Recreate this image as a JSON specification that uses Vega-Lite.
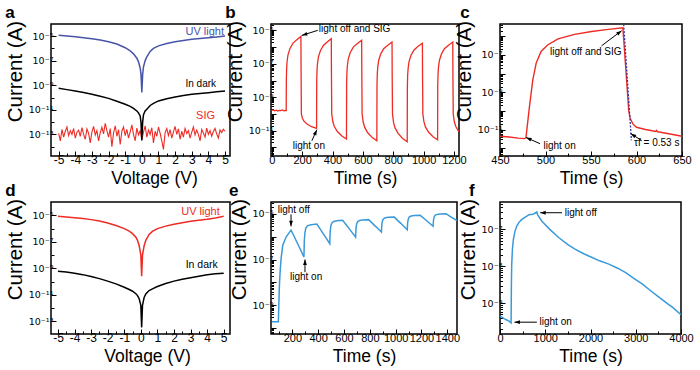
{
"$schema":"https://vega.github.io/schema/vega-lite/v6.json",
"background":"white",
"padding":{"left":4,"top":3,"right":0,"bottom":0},
"config":{
 "font":"Liberation Sans",
 "view":{"stroke":"#000000","strokeWidth":1.5},
 "axis":{"grid":false,"domain":false,"tickColor":"#000000","tickWidth":1,"labelColor":"#000000","titleColor":"#000000","labelFont":"Liberation Sans","titleFont":"Liberation Sans","titleFontWeight":"normal","labelOverlap":false,"labelFlush":false,"tickCount":500},
 "axisX":{"labelFontSize":11,"titleFontSize":17.5,"labelPadding":3,"titlePadding":2},
 "axisY":{"labelFontSize":9.5,"labelFont":"DejaVu Sans","titleFontSize":20.5,"labelPadding":3,"titlePadding":3,"titleY":47},
 "title":{"anchor":"start","frame":"bounds","fontSize":17,"fontWeight":"bold","offset":-2,"baseline":"alphabetic","font":"Liberation Sans","color":"#000000"},
 "text":{"font":"Liberation Sans","fontSize":10}
},
"datasets":{
 "aUV":[{"x":-5,"y":1.15e-5},{"x":-4.5,"y":1.0e-5},{"x":-4,"y":8.71e-6},{"x":-3.5,"y":7.41e-6},{"x":-3,"y":6.03e-6},{"x":-2.5,"y":4.68e-6},{"x":-2,"y":3.47e-6},{"x":-1.5,"y":2.24e-6},{"x":-1,"y":1.12e-6},{"x":-0.7,"y":6.31e-7},{"x":-0.5,"y":3.55e-7},{"x":-0.3,"y":1.58e-7},{"x":-0.2,"y":7.94e-8},{"x":-0.1,"y":2.51e-8},{"x":-0.05,"y":7.94e-9},{"x":0,"y":2.51e-10},{"x":0.05,"y":7.94e-9},{"x":0.1,"y":3.16e-8},{"x":0.2,"y":1e-7},{"x":0.3,"y":2e-7},{"x":0.5,"y":5.62e-7},{"x":0.7,"y":1e-6},{"x":1,"y":1.58e-6},{"x":1.5,"y":2.51e-6},{"x":2,"y":3.47e-6},{"x":2.5,"y":4.37e-6},{"x":3,"y":5.37e-6},{"x":3.5,"y":6.31e-6},{"x":4,"y":7.24e-6},{"x":4.5,"y":8.51e-6},{"x":5,"y":1e-5}],
 "aDark":[{"x":-5,"y":5.62e-10},{"x":-4.5,"y":4.37e-10},{"x":-4,"y":3.39e-10},{"x":-3.5,"y":2.51e-10},{"x":-3,"y":1.82e-10},{"x":-2.5,"y":1.26e-10},{"x":-2,"y":8.51e-11},{"x":-1.5,"y":5.01e-11},{"x":-1,"y":2.82e-11},{"x":-0.7,"y":1.91e-11},{"x":-0.5,"y":1.32e-11},{"x":-0.3,"y":7.94e-12},{"x":-0.2,"y":5.62e-12},{"x":-0.1,"y":3.16e-12},{"x":-0.05,"y":1e-12},{"x":0,"y":3.16e-14},{"x":0.05,"y":1e-12},{"x":0.1,"y":3.98e-12},{"x":0.2,"y":7.94e-12},{"x":0.3,"y":1.12e-11},{"x":0.5,"y":2.24e-11},{"x":0.7,"y":3.31e-11},{"x":1,"y":5.25e-11},{"x":1.5,"y":7.94e-11},{"x":2,"y":1.1e-10},{"x":2.5,"y":1.45e-10},{"x":3,"y":1.82e-10},{"x":3.5,"y":2.14e-10},{"x":4,"y":2.45e-10},{"x":4.5,"y":2.88e-10},{"x":5,"y":3.39e-10}],
 "aSIG":[{"x":-5.0,"y":1.2e-13},{"x":-4.9,"y":3e-14},{"x":-4.8,"y":2.5e-13},{"x":-4.7,"y":6e-14},{"x":-4.6,"y":1.8e-13},{"x":-4.5,"y":4e-13},{"x":-4.4,"y":8e-14},{"x":-4.3,"y":2e-13},{"x":-4.2,"y":1e-13},{"x":-4.1,"y":3e-13},{"x":-4.0,"y":5e-14},{"x":-3.9,"y":1.5e-13},{"x":-3.8,"y":2.2e-13},{"x":-3.7,"y":7e-14},{"x":-3.6,"y":3.5e-13},{"x":-3.5,"y":1e-13},{"x":-3.4,"y":4e-14},{"x":-3.3,"y":2.8e-13},{"x":-3.2,"y":1.2e-13},{"x":-3.1,"y":2e-14},{"x":-3.0,"y":1.6e-13},{"x":-2.9,"y":4.5e-13},{"x":-2.8,"y":9e-14},{"x":-2.7,"y":2e-13},{"x":-2.6,"y":3e-14},{"x":-2.5,"y":1.4e-13},{"x":-2.4,"y":3.8e-13},{"x":-2.3,"y":1.1e-13},{"x":-2.2,"y":8e-13},{"x":-2.1,"y":2e-13},{"x":-2.0,"y":6e-14},{"x":-1.9,"y":3e-13},{"x":-1.8,"y":1e-14},{"x":-1.7,"y":1.3e-13},{"x":-1.6,"y":5e-13},{"x":-1.5,"y":7e-14},{"x":-1.4,"y":2.4e-13},{"x":-1.3,"y":1.5e-14},{"x":-1.2,"y":1.8e-13},{"x":-1.1,"y":4e-13},{"x":-1.0,"y":8e-14},{"x":-0.9,"y":2.6e-13},{"x":-0.8,"y":5e-14},{"x":-0.7,"y":1.6e-13},{"x":-0.6,"y":6e-13},{"x":-0.5,"y":1e-13},{"x":-0.4,"y":3e-14},{"x":-0.3,"y":3.2e-13},{"x":-0.2,"y":9e-14},{"x":-0.1,"y":2e-13},{"x":0.0,"y":4e-14},{"x":0.1,"y":1.5e-13},{"x":0.2,"y":5e-13},{"x":0.3,"y":6e-14},{"x":0.4,"y":2.2e-13},{"x":0.5,"y":1e-13},{"x":0.6,"y":3.5e-13},{"x":0.7,"y":2e-14},{"x":0.8,"y":1.8e-13},{"x":0.9,"y":7e-14},{"x":1.0,"y":4e-13},{"x":1.1,"y":1.2e-13},{"x":1.2,"y":3e-14},{"x":1.3,"y":6e-15},{"x":1.4,"y":1.4e-13},{"x":1.5,"y":3e-13},{"x":1.6,"y":8e-14},{"x":1.7,"y":2.4e-13},{"x":1.8,"y":5e-14},{"x":1.9,"y":1.6e-13},{"x":2.0,"y":4.5e-13},{"x":2.1,"y":1e-13},{"x":2.2,"y":2.8e-13},{"x":2.3,"y":4e-14},{"x":2.4,"y":1.8e-13},{"x":2.5,"y":6e-14},{"x":2.6,"y":3e-13},{"x":2.7,"y":1.2e-13},{"x":2.8,"y":2e-13},{"x":2.9,"y":5e-14},{"x":3.0,"y":1.5e-13},{"x":3.1,"y":4e-13},{"x":3.2,"y":9e-14},{"x":3.3,"y":2.2e-13},{"x":3.4,"y":1e-13},{"x":3.5,"y":3e-14},{"x":3.6,"y":2.5e-13},{"x":3.7,"y":1.3e-13},{"x":3.8,"y":6e-14},{"x":3.9,"y":3.2e-13},{"x":4.0,"y":1e-13},{"x":4.1,"y":2e-13},{"x":4.2,"y":7e-14},{"x":4.3,"y":1.7e-13},{"x":4.4,"y":3e-13},{"x":4.5,"y":1.1e-13},{"x":4.6,"y":5e-14},{"x":4.7,"y":2.3e-13},{"x":4.8,"y":1.4e-13},{"x":4.9,"y":2.6e-13},{"x":5.0,"y":1.8e-13}],
 "dUV":[{"x":-5,"y":8.32e-6},{"x":-4.5,"y":7.41e-6},{"x":-4,"y":6.61e-6},{"x":-3.5,"y":5.62e-6},{"x":-3,"y":4.68e-6},{"x":-2.5,"y":3.63e-6},{"x":-2,"y":2.63e-6},{"x":-1.5,"y":1.7e-6},{"x":-1,"y":9.77e-7},{"x":-0.7,"y":6.31e-7},{"x":-0.5,"y":4.07e-7},{"x":-0.3,"y":2.24e-7},{"x":-0.2,"y":1.29e-7},{"x":-0.1,"y":5.01e-8},{"x":0,"y":1e-8},{"x":0.05,"y":2.51e-10},{"x":0.1,"y":1e-8},{"x":0.2,"y":5.01e-8},{"x":0.3,"y":1.29e-7},{"x":0.5,"y":3.55e-7},{"x":0.7,"y":6.03e-7},{"x":1,"y":9.77e-7},{"x":1.5,"y":1.51e-6},{"x":2,"y":2.09e-6},{"x":2.5,"y":2.75e-6},{"x":3,"y":3.55e-6},{"x":3.5,"y":4.27e-6},{"x":4,"y":5.01e-6},{"x":4.5,"y":6.31e-6},{"x":5,"y":8.32e-6}],
 "dDark":[{"x":-5,"y":6.03e-10},{"x":-4.5,"y":5.13e-10},{"x":-4,"y":4.27e-10},{"x":-3.5,"y":3.31e-10},{"x":-3,"y":2.4e-10},{"x":-2.5,"y":1.66e-10},{"x":-2,"y":1.07e-10},{"x":-1.5,"y":6.61e-11},{"x":-1,"y":3.72e-11},{"x":-0.7,"y":2.51e-11},{"x":-0.5,"y":1.86e-11},{"x":-0.3,"y":1.2e-11},{"x":-0.2,"y":8.71e-12},{"x":-0.1,"y":5.01e-12},{"x":0,"y":1.58e-12},{"x":0.05,"y":3.47e-14},{"x":0.1,"y":1.58e-12},{"x":0.2,"y":6.31e-12},{"x":0.3,"y":1.17e-11},{"x":0.5,"y":2.09e-11},{"x":0.7,"y":2.82e-11},{"x":1,"y":4.17e-11},{"x":1.5,"y":7.08e-11},{"x":2,"y":1.07e-10},{"x":2.5,"y":1.48e-10},{"x":3,"y":1.91e-10},{"x":3.5,"y":2.51e-10},{"x":4,"y":3.24e-10},{"x":4.5,"y":3.8e-10},{"x":5,"y":4.27e-10}],
 "b":[{"x":0,"y":1.62e-10},{"x":10,"y":1.74e-10},{"x":20,"y":1.55e-10},{"x":30,"y":1.7e-10},{"x":40,"y":1.51e-10},{"x":50,"y":1.66e-10},{"x":60,"y":1.58e-10},{"x":70,"y":1.74e-10},{"x":80,"y":1.55e-10},{"x":90,"y":1.62e-10},{"x":95,"y":1.62e-10},{"x":96,"y":1.1e-8},{"x":98,"y":5.5e-8},{"x":101,"y":1.38e-7},{"x":107,"y":3.47e-7},{"x":120,"y":8.32e-7},{"x":140,"y":1.74e-6},{"x":165,"y":2.75e-6},{"x":192,"y":4.37e-6},{"x":193,"y":4.37e-8},{"x":195,"y":1e-10},{"x":202,"y":5.5e-11},{"x":212,"y":3.72e-11},{"x":232,"y":2.51e-11},{"x":262,"y":1.74e-11},{"x":295,"y":1.38e-11},{"x":296,"y":7.94e-9},{"x":298,"y":3.98e-8},{"x":301,"y":1e-7},{"x":307,"y":2.51e-7},{"x":320,"y":6.03e-7},{"x":340,"y":1.26e-6},{"x":365,"y":2e-6},{"x":392,"y":3.16e-6},{"x":393,"y":3.16e-8},{"x":395,"y":1e-10},{"x":402,"y":3.55e-11},{"x":412,"y":1.78e-11},{"x":432,"y":8.91e-12},{"x":462,"y":4.79e-12},{"x":492,"y":3.16e-12},{"x":493,"y":6.31e-9},{"x":495,"y":3.16e-8},{"x":498,"y":7.94e-8},{"x":504,"y":2e-7},{"x":517,"y":4.79e-7},{"x":537,"y":1e-6},{"x":562,"y":1.58e-6},{"x":592,"y":2.51e-6},{"x":593,"y":2.51e-8},{"x":595,"y":1e-10},{"x":602,"y":3.31e-11},{"x":612,"y":1.58e-11},{"x":632,"y":7.59e-12},{"x":662,"y":3.89e-12},{"x":692,"y":2.51e-12},{"x":693,"y":5.01e-9},{"x":695,"y":2.51e-8},{"x":698,"y":6.31e-8},{"x":704,"y":1.58e-7},{"x":717,"y":3.8e-7},{"x":737,"y":7.94e-7},{"x":762,"y":1.26e-6},{"x":792,"y":2e-6},{"x":793,"y":2e-8},{"x":795,"y":1e-10},{"x":802,"y":3.16e-11},{"x":812,"y":1.48e-11},{"x":832,"y":6.92e-12},{"x":862,"y":3.47e-12},{"x":892,"y":2.19e-12},{"x":893,"y":4.27e-9},{"x":895,"y":2.14e-8},{"x":898,"y":5.37e-8},{"x":904,"y":1.35e-7},{"x":917,"y":3.24e-7},{"x":937,"y":6.76e-7},{"x":962,"y":1.07e-6},{"x":992,"y":1.7e-6},{"x":993,"y":1.7e-8},{"x":995,"y":1e-10},{"x":1002,"y":3.47e-11},{"x":1012,"y":1.7e-11},{"x":1032,"y":8.32e-12},{"x":1062,"y":4.37e-12},{"x":1092,"y":2.88e-12},{"x":1093,"y":5.01e-9},{"x":1095,"y":2.51e-8},{"x":1098,"y":6.31e-8},{"x":1104,"y":1.58e-7},{"x":1117,"y":3.8e-7},{"x":1137,"y":7.94e-7},{"x":1162,"y":1.26e-6},{"x":1192,"y":2e-6},{"x":1193,"y":2e-8},{"x":1195,"y":1e-10},{"x":1202,"y":3.55e-11},{"x":1212,"y":1.78e-11},{"x":1232,"y":8.91e-12}],
 "c":[{"x":450,"y":4.37e-12},{"x":460,"y":3.98e-12},{"x":470,"y":3.47e-12},{"x":477,"y":3.24e-12},{"x":478.5,"y":3.55e-12},{"x":482.4,"y":1.74e-10},{"x":486,"y":4.47e-9},{"x":489.8,"y":3.72e-8},{"x":495.3,"y":1.58e-7},{"x":502.7,"y":3.55e-7},{"x":513.8,"y":7.24e-7},{"x":532,"y":1.26e-6},{"x":550.6,"y":1.82e-6},{"x":569,"y":2.34e-6},{"x":585,"y":2.88e-6},{"x":586,"y":6.31e-7},{"x":591.5,"y":1e-10},{"x":593,"y":3.98e-11},{"x":596,"y":2e-11},{"x":600,"y":1.32e-11},{"x":610,"y":1e-11},{"x":621,"y":7.94e-12},{"x":622,"y":8.91e-12},{"x":623,"y":7.59e-12},{"x":625,"y":7.41e-12},{"x":640,"y":5.37e-12},{"x":650,"y":4.37e-12}],
 "cFit":[{"x":585.9,"y":4.47e-6},{"x":594.4,"y":2.63e-12}],
 "e":[{"x":40,"y":1.91e-10},{"x":92,"y":1.91e-10},{"x":96,"y":1.26e-9},{"x":100,"y":7.41e-9},{"x":106,"y":3.16e-8},{"x":113,"y":1.1e-7},{"x":126,"y":4.17e-7},{"x":152,"y":9.55e-7},{"x":190,"y":1.91e-6},{"x":210,"y":1.15e-6},{"x":230,"y":6.61e-7},{"x":250,"y":3.89e-7},{"x":270,"y":2.24e-7},{"x":290,"y":1.29e-7},{"x":293,"y":6.76e-7},{"x":298,"y":1.55e-6},{"x":305,"y":2.4e-6},{"x":320,"y":3.02e-6},{"x":345,"y":3.31e-6},{"x":390,"y":3.55e-6},{"x":415,"y":2.19e-6},{"x":440,"y":1.32e-6},{"x":465,"y":8.13e-7},{"x":490,"y":4.9e-7},{"x":493,"y":1.58e-6},{"x":498,"y":2.85e-6},{"x":505,"y":3.89e-6},{"x":520,"y":4.57e-6},{"x":545,"y":4.9e-6},{"x":590,"y":5.13e-6},{"x":615,"y":3.39e-6},{"x":640,"y":2.24e-6},{"x":665,"y":1.45e-6},{"x":690,"y":9.55e-7},{"x":693,"y":2.29e-6},{"x":698,"y":3.55e-6},{"x":705,"y":4.47e-6},{"x":720,"y":5.01e-6},{"x":745,"y":5.25e-6},{"x":790,"y":5.5e-6},{"x":815,"y":4.07e-6},{"x":840,"y":2.95e-6},{"x":865,"y":2.19e-6},{"x":890,"y":1.58e-6},{"x":893,"y":3.35e-6},{"x":898,"y":4.9e-6},{"x":905,"y":5.89e-6},{"x":920,"y":6.61e-6},{"x":945,"y":6.92e-6},{"x":990,"y":7.08e-6},{"x":1015,"y":5.13e-6},{"x":1040,"y":3.8e-6},{"x":1065,"y":2.75e-6},{"x":1090,"y":2e-6},{"x":1093,"y":4.12e-6},{"x":1098,"y":5.89e-6},{"x":1105,"y":7.08e-6},{"x":1120,"y":7.94e-6},{"x":1145,"y":8.32e-6},{"x":1190,"y":8.51e-6},{"x":1215,"y":6.46e-6},{"x":1240,"y":4.9e-6},{"x":1265,"y":3.72e-6},{"x":1290,"y":2.82e-6},{"x":1293,"y":5.31e-6},{"x":1298,"y":7.24e-6},{"x":1305,"y":8.51e-6},{"x":1320,"y":9.33e-6},{"x":1345,"y":9.77e-6},{"x":1390,"y":1e-5},{"x":1415,"y":8.13e-6},{"x":1440,"y":6.61e-6},{"x":1475,"y":5.01e-6}],
 "f":[{"x":0,"y":4.47e-10},{"x":50,"y":4.17e-10},{"x":100,"y":3.8e-10},{"x":150,"y":3.55e-10},{"x":200,"y":3.31e-10},{"x":245,"y":2.95e-10},{"x":252,"y":3.16e-9},{"x":259,"y":1.15e-8},{"x":275,"y":2.95e-8},{"x":296,"y":5.37e-8},{"x":330,"y":8.71e-8},{"x":370,"y":1.23e-7},{"x":420,"y":1.55e-7},{"x":481,"y":1.86e-7},{"x":593,"y":2.29e-7},{"x":650,"y":2.51e-7},{"x":704,"y":2.51e-7},{"x":760,"y":2.69e-7},{"x":815,"y":2.95e-7},{"x":830,"y":2.51e-7},{"x":926,"y":1.66e-7},{"x":1100,"y":1e-7},{"x":1296,"y":6.03e-8},{"x":1500,"y":3.89e-8},{"x":1667,"y":2.88e-8},{"x":1850,"y":2.19e-8},{"x":2037,"y":1.74e-8},{"x":2200,"y":1.41e-8},{"x":2407,"y":1.15e-8},{"x":2600,"y":8.91e-9},{"x":2778,"y":6.76e-9},{"x":2950,"y":4.79e-9},{"x":3148,"y":3.31e-9},{"x":3330,"y":2.19e-9},{"x":3519,"y":1.45e-9},{"x":3700,"y":9.77e-10},{"x":3815,"y":7.76e-10},{"x":4000,"y":4.9e-10}],
 "notes":[{"id":"aUV","x":4.94,"y":2.09e-5,"label":"UV light"},{"id":"aDark","x":4.46,"y":1.2e-9,"label":"In dark"},{"id":"aSIG","x":4.4,"y":2.95e-12,"label":"SIG"},{"id":"dUV","x":4.76,"y":1.7e-5,"label":"UV light"},{"id":"dDark","x":4.64,"y":1.82e-9,"label":"In dark"},{"id":"b","x":310,"y":1.15e-5,"label":"light off and SIG"},{"id":"b","x":138,"y":1.29e-12,"label":"light on"},{"id":"c","x":505,"y":1.51e-7,"label":"light off and SIG"},{"id":"c","x":497.8,"y":1.38e-12,"label":"light on"},{"id":"c","x":597.3,"y":1.9e-12,"label":"τf = 0.53 s"},{"id":"e","x":87,"y":1.48e-5,"label":"light off"},{"id":"e","x":182,"y":1.74e-8,"label":"light on"},{"id":"f","x":1430,"y":2.82e-7,"label":"light off"},{"id":"f","x":874,"y":3.09e-10,"label":"light on"}],
 "arrows":[{"panel":"b","id":"b1","x":303,"y":1e-5,"x2":198,"y2":5.01e-6},{"panel":"b","id":"b2","x":264,"y":2.51e-12,"x2":297,"y2":1.15e-11},{"panel":"c","id":"c1","x":561.6,"y":3.09e-7,"x2":583.7,"y2":2e-6},{"panel":"c","id":"c2","x":494,"y":1.74e-12,"x2":478.7,"y2":3.72e-12},{"panel":"c","id":"c3","x":605.8,"y":2.57e-12,"x2":593.6,"y2":6.03e-12},{"panel":"e","id":"e1","x":190,"y":9.33e-6,"x2":190,"y2":2.82e-6},{"panel":"e","id":"e2","x":298,"y":2.82e-8,"x2":298,"y2":1e-7},{"panel":"f","id":"f1","x":1370,"y":2.82e-7,"x2":889,"y2":2.82e-7},{"panel":"f","id":"f2","x":815,"y":3.09e-10,"x2":319,"y2":3.09e-10}]
},
"bounds":"flush",
"columns":3,
"spacing":{"row":46,"column":41},
"concat":[
 {"width":179,"height":132,"title":"a",
  "layer":[
   {"data":{"name":"aSIG"},"mark":{"type":"line","color":"#ee2b24","strokeWidth":1.1,"clip":true},
    "encoding":{
     "x":{"field":"x","type":"quantitative","title":"Voltage (V)","scale":{"domain":[-5.46,5.3],"nice":false,"zero":false},
      "axis":{"labelOverlap":false,"tickCount":500,"titleX":103,"values":[-5,-4.5,-4,-3.5,-3,-2.5,-2,-1.5,-1,-0.5,0,0.5,1,1.5,2,2.5,3,3.5,4,4.5,5],"labelExpr":"datum.value % 1 == 0 ? '' + datum.value : ''","labelFontSize":12,"tickSize":{"condition":{"test":"datum.value % 1 == 0","value":-5},"value":-3}}},
     "y":{"field":"y","type":"quantitative","title":"Current (A)","scale":{"type":"log","domain":[1.74e-15,9.55e-5],"nice":false},
      "axis":{"labelOverlap":false,"tickCount":500,"values":[1e-14,1e-13,1e-12,1e-11,1e-10,1e-9,1e-8,1e-7,1e-6,1e-5],"labelExpr":"abs(log(datum.value)/LN10 - round(log(datum.value)/LN10)) > 0.01 || round(log(datum.value)/LN10) % 2 == 0 ? '' : '10⁻' + (round(log(datum.value)/LN10) <= -10 ? '¹' : '') + substring('⁰¹²³⁴⁵⁶⁷⁸⁹', abs(round(log(datum.value)/LN10)) % 10, abs(round(log(datum.value)/LN10)) % 10 + 1)","tickSize":{"condition":{"test":"round(log(datum.value)/LN10) % 2 != 0","value":-5},"value":-3}}}}},
   {"data":{"name":"aDark"},"mark":{"type":"line","color":"#000000","strokeWidth":1.5,"clip":true},
    "encoding":{"x":{"field":"x","type":"quantitative","title":"Voltage (V)","scale":{"domain":[-5.46,5.3],"nice":false,"zero":false}},"y":{"field":"y","type":"quantitative","title":"Current (A)","scale":{"type":"log","domain":[1.74e-15,9.55e-5],"nice":false}}}},
   {"data":{"name":"aUV"},"mark":{"type":"line","color":"#4754a8","strokeWidth":1.5,"clip":true},
    "encoding":{"x":{"field":"x","type":"quantitative","title":"Voltage (V)","scale":{"domain":[-5.46,5.3],"nice":false,"zero":false}},"y":{"field":"y","type":"quantitative","title":"Current (A)","scale":{"type":"log","domain":[1.74e-15,9.55e-5],"nice":false}}}},
   {"data":{"name":"notes"},"transform":[{"filter":"datum.id == 'aUV'"}],"mark":{"type":"text","align":"right","baseline":"middle","fontSize":11,"color":"#4754a8"},
    "encoding":{"x":{"field":"x","type":"quantitative","title":"Voltage (V)","scale":{"domain":[-5.46,5.3],"nice":false,"zero":false}},"y":{"field":"y","type":"quantitative","title":"Current (A)","scale":{"type":"log","domain":[1.74e-15,9.55e-5],"nice":false}},"text":{"field":"label"}}},
   {"data":{"name":"notes"},"transform":[{"filter":"datum.id == 'aDark'"}],"mark":{"type":"text","align":"right","baseline":"middle","fontSize":10,"color":"#000000"},
    "encoding":{"x":{"field":"x","type":"quantitative","title":"Voltage (V)","scale":{"domain":[-5.46,5.3],"nice":false,"zero":false}},"y":{"field":"y","type":"quantitative","title":"Current (A)","scale":{"type":"log","domain":[1.74e-15,9.55e-5],"nice":false}},"text":{"field":"label"}}},
   {"data":{"name":"notes"},"transform":[{"filter":"datum.id == 'aSIG'"}],"mark":{"type":"text","align":"right","baseline":"middle","fontSize":11,"color":"#ee2b24"},
    "encoding":{"x":{"field":"x","type":"quantitative","title":"Voltage (V)","scale":{"domain":[-5.46,5.3],"nice":false,"zero":false}},"y":{"field":"y","type":"quantitative","title":"Current (A)","scale":{"type":"log","domain":[1.74e-15,9.55e-5],"nice":false}},"text":{"field":"label"}}}
  ]},
 {"width":188,"height":132,"title":"b",
  "layer":[
   {"data":{"name":"b"},"mark":{"type":"line","color":"#ee2b24","strokeWidth":1.3,"clip":true},
    "encoding":{
     "x":{"field":"x","type":"quantitative","title":"Time (s)","scale":{"domain":[-5,1233],"nice":false,"zero":false},
      "axis":{"labelOverlap":false,"tickCount":500,"values":[0,100,200,300,400,500,600,700,800,900,1000,1100,1200],"labelExpr":"datum.value % 200 == 0 ? '' + datum.value : ''","tickSize":{"condition":{"test":"datum.value % 200 == 0","value":-5},"value":-3}}},
     "y":{"field":"y","type":"quantitative","title":"Current (A)","scale":{"type":"log","domain":[3.09e-13,2.4e-5],"nice":false},
      "axis":{"labelOverlap":false,"tickCount":500,"values":[4e-13,5e-13,6e-13,7e-13,8e-13,9e-13,1e-12,2e-12,3e-12,4e-12,5e-12,6e-12,7e-12,8e-12,9e-12,1e-11,2e-11,3e-11,4e-11,5e-11,6e-11,7e-11,8e-11,9e-11,1e-10,2e-10,3e-10,4e-10,5e-10,6e-10,7e-10,8e-10,9e-10,1e-9,2e-9,3e-9,4e-9,5e-9,6e-9,7e-9,8e-9,9e-9,1e-8,2e-8,3e-8,4e-8,5e-8,6e-8,7e-8,8e-8,9e-8,1e-7,2e-7,3e-7,4e-7,5e-7,6e-7,7e-7,8e-7,9e-7,1e-6,2e-6,3e-6,4e-6,5e-6,6e-6,7e-6,8e-6,9e-6,1e-5,2e-5],"labelExpr":"abs(log(datum.value)/LN10 - round(log(datum.value)/LN10)) > 0.01 || round(log(datum.value)/LN10) % 2 == 0 ? '' : '10⁻' + (round(log(datum.value)/LN10) <= -10 ? '¹' : '') + substring('⁰¹²³⁴⁵⁶⁷⁸⁹', abs(round(log(datum.value)/LN10)) % 10, abs(round(log(datum.value)/LN10)) % 10 + 1)","tickSize":{"condition":{"test":"abs(log(datum.value)/LN10 - round(log(datum.value)/LN10)) < 0.01","value":-5},"value":-2.5}}}}},
   {"data":{"name":"notes"},"transform":[{"filter":"datum.id == 'b'"}],"mark":{"type":"text","align":"left","baseline":"middle","fontSize":10,"color":"#000000"},
    "encoding":{"x":{"field":"x","type":"quantitative","title":"Time (s)","scale":{"domain":[-5,1233],"nice":false,"zero":false}},"y":{"field":"y","type":"quantitative","title":"Current (A)","scale":{"type":"log","domain":[3.09e-13,2.4e-5],"nice":false}},"text":{"field":"label"}}},
   {"data":{"name":"arrows"},"transform":[{"filter":"datum.panel == 'b'"}],"mark":{"type":"rule","color":"#000000","strokeWidth":1},
    "encoding":{"x":{"field":"x","type":"quantitative","title":"Time (s)","scale":{"domain":[-5,1233],"nice":false,"zero":false}},"y":{"field":"y","type":"quantitative","title":"Current (A)","scale":{"type":"log","domain":[3.09e-13,2.4e-5],"nice":false}},"x2":{"field":"x2"},"y2":{"field":"y2"}}},
   {"data":{"name":"arrows"},"transform":[{"filter":"datum.id == 'b1'"}],"mark":{"type":"point","shape":"M0,0L0.7,2L-0.7,2Z","filled":true,"color":"#000000","opacity":1,"size":30,"angle":253},
    "encoding":{"x":{"field":"x2","type":"quantitative","title":"Time (s)","scale":{"domain":[-5,1233],"nice":false,"zero":false}},"y":{"field":"y2","type":"quantitative","title":"Current (A)","scale":{"type":"log","domain":[3.09e-13,2.4e-5],"nice":false}}}},
   {"data":{"name":"arrows"},"transform":[{"filter":"datum.id == 'b2'"}],"mark":{"type":"point","shape":"M0,0L0.7,2L-0.7,2Z","filled":true,"color":"#000000","opacity":1,"size":30,"angle":25},
    "encoding":{"x":{"field":"x2","type":"quantitative","title":"Time (s)","scale":{"domain":[-5,1233],"nice":false,"zero":false}},"y":{"field":"y2","type":"quantitative","title":"Current (A)","scale":{"type":"log","domain":[3.09e-13,2.4e-5],"nice":false}}}}
  ]},
 {"width":182,"height":132,"title":{"text":"c","dx":6},
  "layer":[
   {"data":{"name":"c"},"mark":{"type":"line","color":"#ee2b24","strokeWidth":1.4,"clip":true},
    "encoding":{
     "x":{"field":"x","type":"quantitative","title":"Time (s)","scale":{"domain":[450,650],"nice":false,"zero":false},
      "axis":{"labelOverlap":false,"tickCount":500,"values":[450,475,500,525,550,575,600,625,650],"labelExpr":"datum.value % 50 == 0 ? '' + datum.value : ''","tickSize":{"condition":{"test":"datum.value % 50 == 0","value":-5},"value":-3}}},
     "y":{"field":"y","type":"quantitative","title":"Current (A)","scale":{"type":"log","domain":[3.8e-13,4.57e-6],"nice":false},
      "axis":{"labelOverlap":false,"tickCount":500,"values":[4e-13,5e-13,6e-13,7e-13,8e-13,9e-13,1e-12,2e-12,3e-12,4e-12,5e-12,6e-12,7e-12,8e-12,9e-12,1e-11,2e-11,3e-11,4e-11,5e-11,6e-11,7e-11,8e-11,9e-11,1e-10,2e-10,3e-10,4e-10,5e-10,6e-10,7e-10,8e-10,9e-10,1e-9,2e-9,3e-9,4e-9,5e-9,6e-9,7e-9,8e-9,9e-9,1e-8,2e-8,3e-8,4e-8,5e-8,6e-8,7e-8,8e-8,9e-8,1e-7,2e-7,3e-7,4e-7,5e-7,6e-7,7e-7,8e-7,9e-7,1e-6,2e-6,3e-6,4e-6],"labelExpr":"abs(log(datum.value)/LN10 - round(log(datum.value)/LN10)) > 0.01 || round(log(datum.value)/LN10) % 2 == 0 ? '' : '10⁻' + (round(log(datum.value)/LN10) <= -10 ? '¹' : '') + substring('⁰¹²³⁴⁵⁶⁷⁸⁹', abs(round(log(datum.value)/LN10)) % 10, abs(round(log(datum.value)/LN10)) % 10 + 1)","tickSize":{"condition":{"test":"abs(log(datum.value)/LN10 - round(log(datum.value)/LN10)) < 0.01","value":-5},"value":-2.5}}}}},
   {"data":{"name":"cFit"},"mark":{"type":"line","color":"#3535a8","strokeWidth":1.3,"strokeDash":[2,1.5],"clip":true},
    "encoding":{"x":{"field":"x","type":"quantitative","title":"Time (s)","scale":{"domain":[450,650],"nice":false,"zero":false}},"y":{"field":"y","type":"quantitative","title":"Current (A)","scale":{"type":"log","domain":[3.8e-13,4.57e-6],"nice":false}}}},
   {"data":{"name":"notes"},"transform":[{"filter":"datum.id == 'c'"}],"mark":{"type":"text","align":"left","baseline":"middle","fontSize":10,"color":"#000000"},
    "encoding":{"x":{"field":"x","type":"quantitative","title":"Time (s)","scale":{"domain":[450,650],"nice":false,"zero":false}},"y":{"field":"y","type":"quantitative","title":"Current (A)","scale":{"type":"log","domain":[3.8e-13,4.57e-6],"nice":false}},"text":{"field":"label"}}},
   {"data":{"name":"arrows"},"transform":[{"filter":"datum.panel == 'c'"}],"mark":{"type":"rule","color":"#000000","strokeWidth":1},
    "encoding":{"x":{"field":"x","type":"quantitative","title":"Time (s)","scale":{"domain":[450,650],"nice":false,"zero":false}},"y":{"field":"y","type":"quantitative","title":"Current (A)","scale":{"type":"log","domain":[3.8e-13,4.57e-6],"nice":false}},"x2":{"field":"x2"},"y2":{"field":"y2"}}},
   {"data":{"name":"arrows"},"transform":[{"filter":"datum.id == 'c1'"}],"mark":{"type":"point","shape":"M0,0L0.7,2L-0.7,2Z","filled":true,"color":"#000000","opacity":1,"size":30,"angle":53},
    "encoding":{"x":{"field":"x2","type":"quantitative","title":"Time (s)","scale":{"domain":[450,650],"nice":false,"zero":false}},"y":{"field":"y2","type":"quantitative","title":"Current (A)","scale":{"type":"log","domain":[3.8e-13,4.57e-6],"nice":false}}}},
   {"data":{"name":"arrows"},"transform":[{"filter":"datum.id == 'c2'"}],"mark":{"type":"point","shape":"M0,0L0.7,2L-0.7,2Z","filled":true,"color":"#000000","opacity":1,"size":30,"angle":294},
    "encoding":{"x":{"field":"x2","type":"quantitative","title":"Time (s)","scale":{"domain":[450,650],"nice":false,"zero":false}},"y":{"field":"y2","type":"quantitative","title":"Current (A)","scale":{"type":"log","domain":[3.8e-13,4.57e-6],"nice":false}}}},
   {"data":{"name":"arrows"},"transform":[{"filter":"datum.id == 'c3'"}],"mark":{"type":"point","shape":"M0,0L0.7,2L-0.7,2Z","filled":true,"color":"#000000","opacity":1,"size":30,"angle":302},
    "encoding":{"x":{"field":"x2","type":"quantitative","title":"Time (s)","scale":{"domain":[450,650],"nice":false,"zero":false}},"y":{"field":"y2","type":"quantitative","title":"Current (A)","scale":{"type":"log","domain":[3.8e-13,4.57e-6],"nice":false}}}}
  ]},
 {"width":179,"height":132,"title":"d",
  "layer":[
   {"data":{"name":"dDark"},"mark":{"type":"line","color":"#000000","strokeWidth":1.5,"clip":true},
    "encoding":{
     "x":{"field":"x","type":"quantitative","title":"Voltage (V)","scale":{"domain":[-5.42,5.38],"nice":false,"zero":false},
      "axis":{"labelOverlap":false,"tickCount":500,"titleX":96,"values":[-5,-4.5,-4,-3.5,-3,-2.5,-2,-1.5,-1,-0.5,0,0.5,1,1.5,2,2.5,3,3.5,4,4.5,5],"labelExpr":"datum.value % 1 == 0 ? '' + datum.value : ''","labelFontSize":12,"tickSize":{"condition":{"test":"datum.value % 1 == 0","value":-5},"value":-3}}},
     "y":{"field":"y","type":"quantitative","title":"Current (A)","scale":{"type":"log","domain":[1.1e-14,1e-4],"nice":false},
      "axis":{"labelOverlap":false,"tickCount":500,"values":[1e-13,1e-12,1e-11,1e-10,1e-9,1e-8,1e-7,1e-6,1e-5],"labelExpr":"abs(log(datum.value)/LN10 - round(log(datum.value)/LN10)) > 0.01 || round(log(datum.value)/LN10) % 2 == 0 ? '' : '10⁻' + (round(log(datum.value)/LN10) <= -10 ? '¹' : '') + substring('⁰¹²³⁴⁵⁶⁷⁸⁹', abs(round(log(datum.value)/LN10)) % 10, abs(round(log(datum.value)/LN10)) % 10 + 1)","tickSize":{"condition":{"test":"round(log(datum.value)/LN10) % 2 != 0","value":-5},"value":-3}}}}},
   {"data":{"name":"dUV"},"mark":{"type":"line","color":"#ee2b24","strokeWidth":1.5,"clip":true},
    "encoding":{"x":{"field":"x","type":"quantitative","title":"Voltage (V)","scale":{"domain":[-5.42,5.38],"nice":false,"zero":false}},"y":{"field":"y","type":"quantitative","title":"Current (A)","scale":{"type":"log","domain":[1.1e-14,1e-4],"nice":false}}}},
   {"data":{"name":"notes"},"transform":[{"filter":"datum.id == 'dUV'"}],"mark":{"type":"text","align":"right","baseline":"middle","fontSize":11,"color":"#ee2b24"},
    "encoding":{"x":{"field":"x","type":"quantitative","title":"Voltage (V)","scale":{"domain":[-5.42,5.38],"nice":false,"zero":false}},"y":{"field":"y","type":"quantitative","title":"Current (A)","scale":{"type":"log","domain":[1.1e-14,1e-4],"nice":false}},"text":{"field":"label"}}},
   {"data":{"name":"notes"},"transform":[{"filter":"datum.id == 'dDark'"}],"mark":{"type":"text","align":"right","baseline":"middle","fontSize":10.5,"color":"#000000"},
    "encoding":{"x":{"field":"x","type":"quantitative","title":"Voltage (V)","scale":{"domain":[-5.42,5.38],"nice":false,"zero":false}},"y":{"field":"y","type":"quantitative","title":"Current (A)","scale":{"type":"log","domain":[1.1e-14,1e-4],"nice":false}},"text":{"field":"label"}}}
  ]},
 {"width":186,"height":132,"title":"e",
  "layer":[
   {"data":{"name":"e"},"mark":{"type":"line","color":"#3a9ad9","strokeWidth":1.5,"clip":true},
    "encoding":{
     "x":{"field":"x","type":"quantitative","title":"Time (s)","scale":{"domain":[35,1475],"nice":false,"zero":false},
      "axis":{"labelOverlap":false,"tickCount":500,"values":[100,200,300,400,500,600,700,800,900,1000,1100,1200,1300,1400],"labelExpr":"datum.value % 200 == 0 ? '' + datum.value : ''","tickSize":{"condition":{"test":"datum.value % 200 == 0","value":-5},"value":-3}}},
     "y":{"field":"y","type":"quantitative","title":"Current (A)","scale":{"type":"log","domain":[5.62e-11,3.24e-5],"nice":false},
      "axis":{"labelOverlap":false,"tickCount":500,"values":[6e-11,7e-11,8e-11,9e-11,1e-10,2e-10,3e-10,4e-10,5e-10,6e-10,7e-10,8e-10,9e-10,1e-9,2e-9,3e-9,4e-9,5e-9,6e-9,7e-9,8e-9,9e-9,1e-8,2e-8,3e-8,4e-8,5e-8,6e-8,7e-8,8e-8,9e-8,1e-7,2e-7,3e-7,4e-7,5e-7,6e-7,7e-7,8e-7,9e-7,1e-6,2e-6,3e-6,4e-6,5e-6,6e-6,7e-6,8e-6,9e-6,1e-5,2e-5,3e-5],"labelExpr":"abs(log(datum.value)/LN10 - round(log(datum.value)/LN10)) > 0.01 || round(log(datum.value)/LN10) % 2 == 0 ? '' : '10⁻' + (round(log(datum.value)/LN10) <= -10 ? '¹' : '') + substring('⁰¹²³⁴⁵⁶⁷⁸⁹', abs(round(log(datum.value)/LN10)) % 10, abs(round(log(datum.value)/LN10)) % 10 + 1)","tickSize":{"condition":{"test":"abs(log(datum.value)/LN10 - round(log(datum.value)/LN10)) < 0.01","value":-5},"value":-2.5}}}}},
   {"data":{"name":"notes"},"transform":[{"filter":"datum.id == 'e'"}],"mark":{"type":"text","align":"left","baseline":"middle","fontSize":10,"color":"#000000"},
    "encoding":{"x":{"field":"x","type":"quantitative","title":"Time (s)","scale":{"domain":[35,1475],"nice":false,"zero":false}},"y":{"field":"y","type":"quantitative","title":"Current (A)","scale":{"type":"log","domain":[5.62e-11,3.24e-5],"nice":false}},"text":{"field":"label"}}},
   {"data":{"name":"arrows"},"transform":[{"filter":"datum.panel == 'e'"}],"mark":{"type":"rule","color":"#000000","strokeWidth":1},
    "encoding":{"x":{"field":"x","type":"quantitative","title":"Time (s)","scale":{"domain":[35,1475],"nice":false,"zero":false}},"y":{"field":"y","type":"quantitative","title":"Current (A)","scale":{"type":"log","domain":[5.62e-11,3.24e-5],"nice":false}},"x2":{"field":"x2"},"y2":{"field":"y2"}}},
   {"data":{"name":"arrows"},"transform":[{"filter":"datum.id == 'e1'"}],"mark":{"type":"point","shape":"M0,0L0.7,2L-0.7,2Z","filled":true,"color":"#000000","opacity":1,"size":30,"angle":180},
    "encoding":{"x":{"field":"x2","type":"quantitative","title":"Time (s)","scale":{"domain":[35,1475],"nice":false,"zero":false}},"y":{"field":"y2","type":"quantitative","title":"Current (A)","scale":{"type":"log","domain":[5.62e-11,3.24e-5],"nice":false}}}},
   {"data":{"name":"arrows"},"transform":[{"filter":"datum.id == 'e2'"}],"mark":{"type":"point","shape":"M0,0L0.7,2L-0.7,2Z","filled":true,"color":"#000000","opacity":1,"size":30,"angle":0},
    "encoding":{"x":{"field":"x2","type":"quantitative","title":"Time (s)","scale":{"domain":[35,1475],"nice":false,"zero":false}},"y":{"field":"y2","type":"quantitative","title":"Current (A)","scale":{"type":"log","domain":[5.62e-11,3.24e-5],"nice":false}}}}
  ]},
 {"width":181,"height":132,"title":{"text":"f","dx":11},
  "layer":[
   {"data":{"name":"f"},"mark":{"type":"line","color":"#3a9ad9","strokeWidth":1.5,"clip":true},
    "encoding":{
     "x":{"field":"x","type":"quantitative","title":"Time (s)","scale":{"domain":[0,4000],"nice":false,"zero":false},
      "axis":{"labelOverlap":false,"tickCount":500,"values":[0,500,1000,1500,2000,2500,3000,3500,4000],"labelExpr":"datum.value % 1000 == 0 ? '' + datum.value : ''","tickSize":{"condition":{"test":"datum.value % 1000 == 0","value":-5},"value":-3}}},
     "y":{"field":"y","type":"quantitative","title":"Current (A)","scale":{"type":"log","domain":[1.48e-10,5.5e-7],"nice":false},
      "axis":{"labelOverlap":false,"tickCount":500,"values":[2e-10,3e-10,4e-10,5e-10,6e-10,7e-10,8e-10,9e-10,1e-9,2e-9,3e-9,4e-9,5e-9,6e-9,7e-9,8e-9,9e-9,1e-8,2e-8,3e-8,4e-8,5e-8,6e-8,7e-8,8e-8,9e-8,1e-7,2e-7,3e-7,4e-7,5e-7],"labelExpr":"abs(log(datum.value)/LN10 - round(log(datum.value)/LN10)) > 0.01 ? '' : '10⁻' + substring('⁰¹²³⁴⁵⁶⁷⁸⁹', abs(round(log(datum.value)/LN10)) % 10, abs(round(log(datum.value)/LN10)) % 10 + 1)","tickSize":{"condition":{"test":"abs(log(datum.value)/LN10 - round(log(datum.value)/LN10)) < 0.01","value":-5},"value":-2.5}}}}},
   {"data":{"name":"notes"},"transform":[{"filter":"datum.id == 'f'"}],"mark":{"type":"text","align":"left","baseline":"middle","fontSize":10,"color":"#000000"},
    "encoding":{"x":{"field":"x","type":"quantitative","title":"Time (s)","scale":{"domain":[0,4000],"nice":false,"zero":false}},"y":{"field":"y","type":"quantitative","title":"Current (A)","scale":{"type":"log","domain":[1.48e-10,5.5e-7],"nice":false}},"text":{"field":"label"}}},
   {"data":{"name":"arrows"},"transform":[{"filter":"datum.panel == 'f'"}],"mark":{"type":"rule","color":"#000000","strokeWidth":1},
    "encoding":{"x":{"field":"x","type":"quantitative","title":"Time (s)","scale":{"domain":[0,4000],"nice":false,"zero":false}},"y":{"field":"y","type":"quantitative","title":"Current (A)","scale":{"type":"log","domain":[1.48e-10,5.5e-7],"nice":false}},"x2":{"field":"x2"},"y2":{"field":"y2"}}},
   {"data":{"name":"arrows"},"transform":[{"filter":"datum.panel == 'f'"}],"mark":{"type":"point","shape":"M0,0L0.7,2L-0.7,2Z","filled":true,"color":"#000000","opacity":1,"size":30,"angle":270},
    "encoding":{"x":{"field":"x2","type":"quantitative","title":"Time (s)","scale":{"domain":[0,4000],"nice":false,"zero":false}},"y":{"field":"y2","type":"quantitative","title":"Current (A)","scale":{"type":"log","domain":[1.48e-10,5.5e-7],"nice":false}}}}
  ]}
]
}
